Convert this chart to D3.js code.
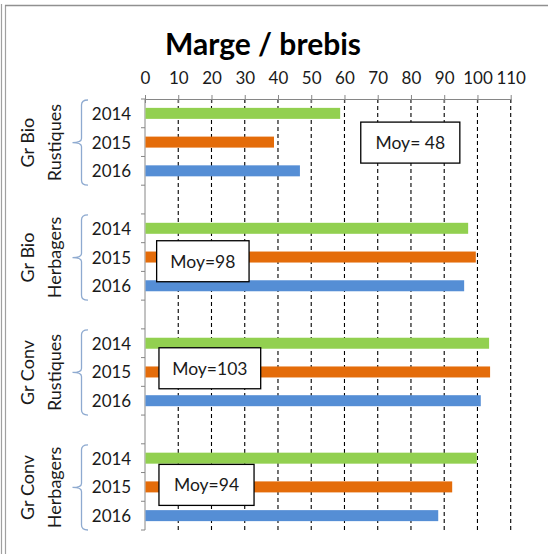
<!DOCTYPE html>
<html>
<head>
<meta charset="utf-8">
<script src="https://cdn.jsdelivr.net/npm/d3@7"></script>
<style>
  body { margin: 0; background: #fff; }
  text { font-family: Lato, "Open Sans", sans-serif; }
</style>
</head>
<body>
<div id="chart"></div>
<script>
// Chart data
var groups = ["Gr Bio|Rustiques", "Gr Bio|Herbagers", "Gr Conv|Rustiques", "Gr Conv|Herbagers"];
var years = ["2014", "2015", "2016"];
var values2014 = [58.7, 97.2, 103.5, 99.8];
var values2015 = [38.8, 99.5, 103.8, 92.4];
var values2016 = [46.6, 96.0, 101.0, 88.2];
var moyLabels = ["Moy= 48", "Moy=98", "Moy=103", "Moy=94"];
var xTicks = [0, 10, 20, 30, 40, 50, 60, 70, 80, 90, 100, 110];

var colors = {"2014": "#92D050", "2015": "#E46C0A", "2016": "#558ED5"};

// Build the list of categories, with an empty row between groups
var rows = [];
var bars = [];
groups.forEach(function(g, gi) {
    years.forEach(function(yr, yi) {
        var key = gi + "-" + yr;
        rows.push(key);
        var v = [values2014, values2015, values2016][yi][gi];
        bars.push({key: key, year: yr, value: v});
    });
    if (gi < groups.length - 1) rows.push("gap" + gi);
});

var width = 548, height = 554;

var svg = d3.select("#chart")
    .append("svg")
    .attr("width", width)
    .attr("height", height);

// Frame lines
svg.append("line").attr("x1", 1.5).attr("x2", 1.5).attr("y1", 4).attr("y2", height)
    .attr("stroke", "#a0a0a0").attr("stroke-width", 1.2);
svg.append("line").attr("x1", 5.5).attr("x2", 5.5).attr("y1", 5).attr("y2", height)
    .attr("stroke", "#a0a0a0").attr("stroke-width", 1.2);
svg.append("line").attr("x1", 5).attr("x2", width).attr("y1", 5.5).attr("y2", 5.5)
    .attr("stroke", "#909090").attr("stroke-width", 1.5);

var x = d3.scaleLinear()
    .domain([0, 110])
    .range([145, 510.7]);

var y = d3.scaleBand()
    .domain(rows)
    .range([99, 530])
    .padding(0);

var barH = 11;

// Title
svg.append("text")
    .attr("x", 263)
    .attr("y", 55)
    .attr("text-anchor", "middle")
    .style("font-size", "30px")
    .style("font-weight", "bold")
    .style("fill", "#000")
    .text("Marge / brebis");

// Dashed gridlines
svg.selectAll("gridLine")
    .data(xTicks.filter(d => d > 0))
    .enter()
    .append("line")
    .attr("x1", d => x(d))
    .attr("x2", d => x(d))
    .attr("y1", y.range()[0])
    .attr("y2", y.range()[1])
    .attr("stroke", "#000")
    .attr("stroke-width", 1.1)
    .attr("stroke-dasharray", "4,3");

// Top axis
var xAxis = svg.append("g")
    .attr("transform", "translate(0," + y.range()[0] + ")")
    .call(d3.axisTop(x).tickValues(xTicks).tickSize(4).tickSizeOuter(0));
xAxis.select(".domain").attr("stroke", "#868686");
xAxis.selectAll(".tick line").attr("stroke", "#868686").attr("y1", 4);
xAxis.selectAll(".tick text")
    .attr("y", -15)
    .style("font-size", "17px")
    .style("font-family", "Lato, sans-serif")
    .style("fill", "#1a1a1a");

// Left axis line and category ticks
svg.append("line")
    .attr("x1", x(0)).attr("x2", x(0))
    .attr("y1", y.range()[0]).attr("y2", y.range()[1])
    .attr("stroke", "#868686");

var boundaries = rows.map(r => y(r)).concat([y.range()[1]]);
svg.selectAll("catTick")
    .data(boundaries)
    .enter()
    .append("line")
    .attr("x1", x(0) - 4).attr("x2", x(0))
    .attr("y1", d => d).attr("y2", d => d)
    .attr("stroke", "#868686");

// Bars
svg.selectAll("bar")
    .data(bars)
    .enter()
    .append("rect")
    .attr("x", x(0) + 0.5)
    .attr("y", d => y(d.key) + (y.bandwidth() - barH) / 2)
    .attr("width", d => x(d.value) - x(0) - 0.5)
    .attr("height", barH)
    .attr("fill", d => colors[d.year]);

// Year labels
svg.selectAll("yearLabel")
    .data(bars)
    .enter()
    .append("text")
    .attr("x", 111.5)
    .attr("y", d => y(d.key) + y.bandwidth() / 2)
    .attr("text-anchor", "middle")
    .attr("dominant-baseline", "central")
    .style("font-size", "17px")
    .style("fill", "#1a1a1a")
    .text(d => d.year);

// Group brackets and labels
groups.forEach(function(g, gi) {
    var top = y(gi + "-2014") + 1;
    var bot = y(gi + "-2016") + y.bandwidth();
    var mid = (top + bot) / 2;
    var bx = 81.5;
    svg.append("path")
        .attr("d", "M88," + top + " Q" + bx + "," + top + " " + bx + "," + (top + 5) +
            " L" + bx + "," + (mid - 4) + " Q" + bx + "," + mid + " " + (bx - 9) + "," + mid +
            " Q" + bx + "," + mid + " " + bx + "," + (mid + 4) +
            " L" + bx + "," + (bot - 5) + " Q" + bx + "," + bot + " 88," + bot)
        .attr("fill", "none")
        .attr("stroke", "#8EAAD0")
        .attr("stroke-width", 1.3);

    var parts = g.split("|");
    var lbl = svg.append("text")
        .attr("transform", "translate(0," + mid + ") rotate(-90)")
        .attr("text-anchor", "middle")
        .style("font-size", "18px")
        .style("fill", "#1a1a1a");
    lbl.append("tspan").attr("x", 0).attr("y", 34).text(parts[0]);
    lbl.append("tspan").attr("x", 0).attr("y", 61).text(parts[1]);
});

// Average boxes (annotation placement in value units)
var boxPlace = [
    {x0: 64.9, x1: 94.7, dy: 0.5},
    {x0: 3.5, x1: 31.3, dy: 4.2},
    {x0: 4.2, x1: 34.8, dy: -3.7},
    {x0: 4.2, x1: 32.8, dy: -2}
];
moyLabels.forEach(function(m, gi) {
    var top = y(gi + "-2014");
    var bot = y(gi + "-2016") + y.bandwidth();
    var cy = (top + bot) / 2 + boxPlace[gi].dy;
    var bx0 = x(boxPlace[gi].x0), bx1 = x(boxPlace[gi].x1);
    svg.append("rect")
        .attr("x", bx0)
        .attr("y", cy - 20.5)
        .attr("width", bx1 - bx0)
        .attr("height", 41)
        .attr("fill", "#fff")
        .attr("stroke", "#000")
        .attr("stroke-width", 1.3);
    svg.append("text")
        .attr("x", (bx0 + bx1) / 2)
        .attr("y", cy)
        .attr("text-anchor", "middle")
        .attr("dominant-baseline", "central")
        .style("font-size", "17.5px")
        .style("fill", "#1a1a1a")
        .text(m);
});
</script>
</body>
</html>
